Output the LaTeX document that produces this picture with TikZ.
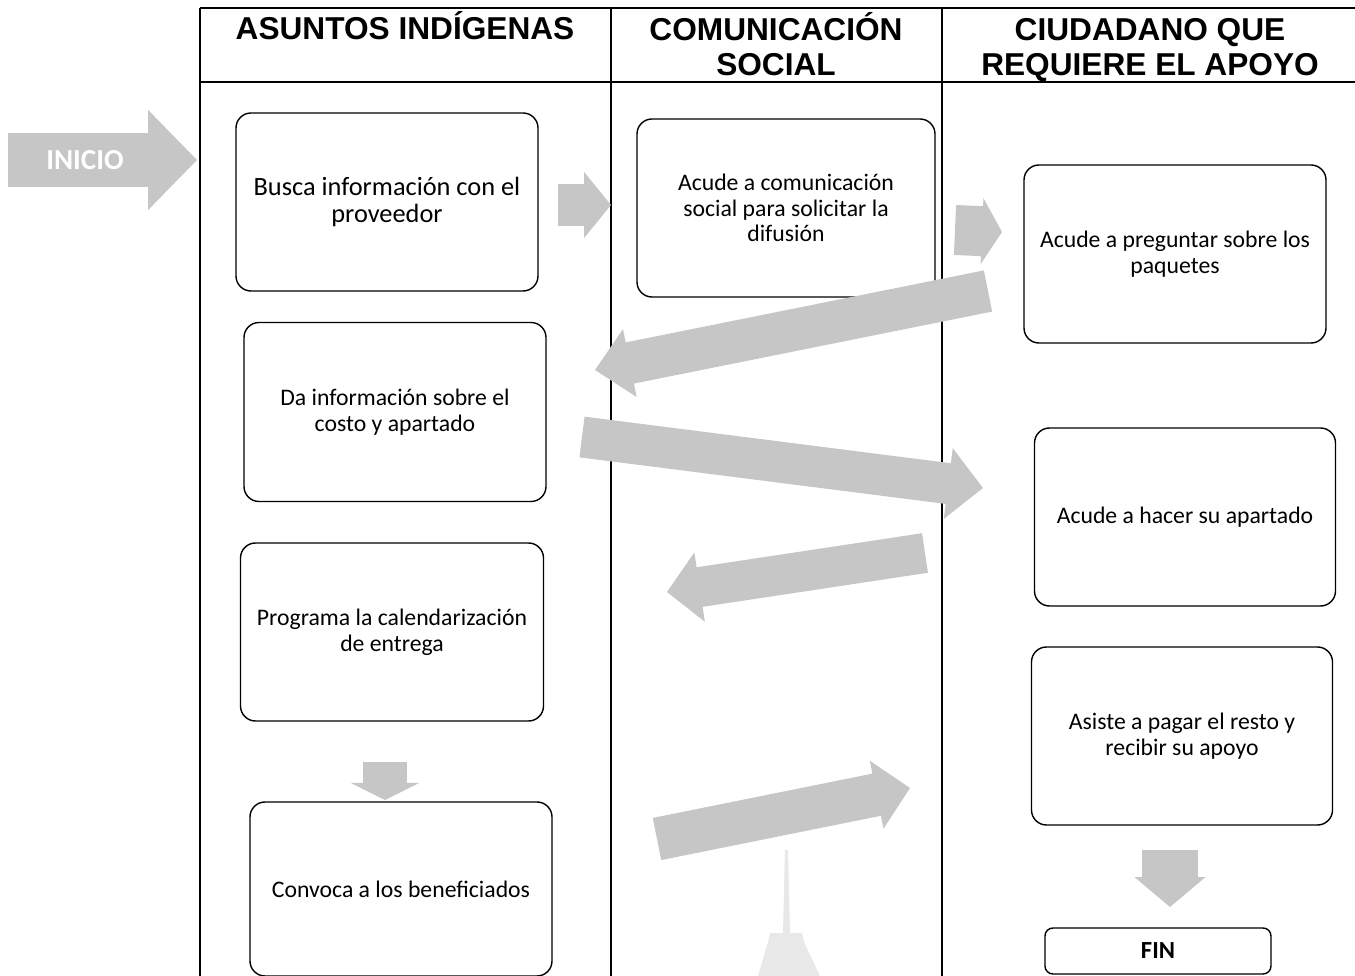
\documentclass[tikz,border=0pt]{standalone}
\usepackage{fontspec}
\setmainfont{Carlito}
\newfontfamily\headfont{Liberation Sans}
\usetikzlibrary{arrows.meta}

\begin{document}
\begin{tikzpicture}[x=0.2mm,y=-0.2mm,
  lane/.style={line width=1.1pt},
  hdr/.style={align=center,font=\headfont\bfseries\fontsize{18}{19.8}\selectfont},
  box/.style={draw,line width=0.8pt,rounded corners=3mm,align=center,
    minimum width=60.4mm,minimum height=35.6mm,font=\fontsize{13.5}{14.7}\selectfont},
  fatarrow/.style n args={3}{draw=gray!45,line width=#1,
    -{Triangle[length=#2,width=#3,line width=0.8pt]}}]
\useasboundingbox (0,0) rectangle (1355,976);

% swimlanes
\draw[lane] (200,8) -- (1355,8);
\draw[lane] (200,82) -- (1355,82);
\draw[lane] (200,8) -- (200,976);
\draw[lane] (611,8) -- (611,976);
\draw[lane] (942,8) -- (942,976);

\node[hdr] (asuntos) at (405,26) {ASUNTOS INDÍGENAS};
\node[hdr] (comunicacion) at (776,44) {COMUNICACIÓN\\SOCIAL};
\node[hdr] (ciudadano) at (1150,50) {CIUDADANO QUE\\REQUIERE EL APOYO};

% activities
\node[box,font=\fontsize{15}{15.9}\selectfont] (busca) at (387,202) {Busca información con el\\proveedor};
\node[box,minimum width=59.6mm] (difusion) at (786,208) {Acude a comunicación\\social para solicitar la\\difusión};
\node[box] (pregunta) at (1175,254) {Acude a preguntar sobre los\\paquetes};
\node[box,minimum height=35.8mm] (informa) at (395,412) {Da información sobre el\\costo y apartado};
\node[box,minimum width=60.2mm] (apartado) at (1185,517) {Acude a hacer su apartado};
\node[box,minimum width=60.6mm] (programa) at (392,632) {Programa la calendarización\\de entrega};
\node[box,minimum width=60.2mm] (asiste) at (1182,736) {Asiste a pagar el resto y\\recibir su apoyo};
\node[box,minimum height=34.8mm] (convoca) at (401,889) {Convoca a los beneficiados};
\node[box,minimum width=45.2mm,minimum height=9.2mm,rounded corners=1.6mm,
  font=\bfseries\fontsize{14}{16}\selectfont] (fin) at (1158,951) {FIN};

% block arrows
\coordinate (inicio tail) at (8,160);
\coordinate (inicio tip) at (197,160);
\draw[fatarrow={10.8mm}{9.8mm}{20mm}] (inicio tail) -- (inicio tip);
\node[text=white,font=\bfseries\fontsize{16.5}{18}\selectfont] (inicio) at (85,160) {INICIO};

\coordinate (a1) at (558,205);
\coordinate (b1) at (611,205);
\draw[fatarrow={8.4mm}{5.4mm}{13.2mm}] (a1) -- (b1);

\coordinate (a2) at (955,230);
\coordinate (b2) at (1002,232);
\draw[fatarrow={10mm}{4mm}{13.2mm}] (a2) -- (b2);

\coordinate (a3) at (988,291);
\coordinate (b3) at (595,370);
\draw[fatarrow={8.4mm}{7.1mm}{13.8mm}] (a3) -- (b3);

\coordinate (a4) at (582,437);
\coordinate (b4) at (983,488);
\draw[fatarrow={8.2mm}{7mm}{14.2mm}] (a4) -- (b4);

\coordinate (a5) at (925,553);
\coordinate (b5) at (667,592);
\draw[fatarrow={8mm}{6.6mm}{14mm}] (a5) -- (b5);

\coordinate (a6) at (385,762);
\coordinate (b6) at (385,800);
\draw[fatarrow={8.8mm}{3.4mm}{13.6mm}] (a6) -- (b6);

\coordinate (a7) at (657,839);
\coordinate (b7) at (910,788);
\draw[fatarrow={8.6mm}{6.8mm}{13.8mm}] (a7) -- (b7);

\coordinate (a8) at (1170,850);
\coordinate (b8) at (1170,907);
\draw[fatarrow={11.2mm}{6mm}{14.2mm}] (a8) -- (b8);

% faint mark at the bottom
\fill[gray!18] (785,850) -- (788,850) -- (790,933) -- (802,933) -- (804,942) -- (820,976)
  -- (758,976) -- (768,942) -- (770,933) -- (783,933) -- cycle;

\end{tikzpicture}
\end{document}
